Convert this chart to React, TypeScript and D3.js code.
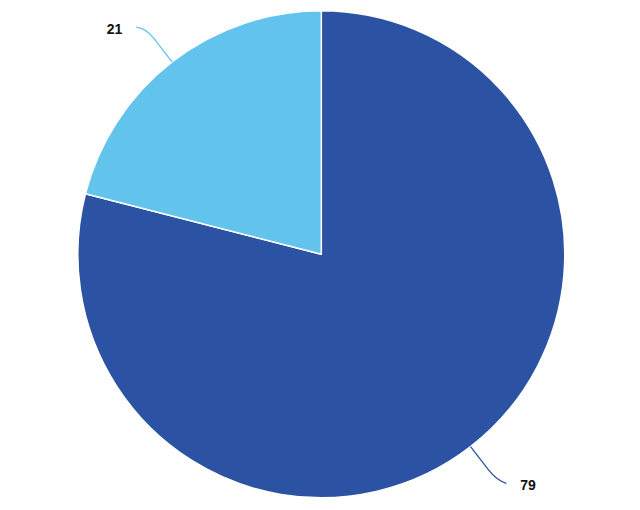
import React from "react";
import * as d3 from "d3";

const categories = ["A", "B"];
const values = [79, 21];
const colors = ["#2B52A3", "#62C3EC"];

const W = 640;
const H = 510;
const cx = 321.3;
const cy = 254.3;
const R = 243.5;

export default function App() {
  const pie = d3.pie<number>().sort(null).value((d) => d);
  const arcs = pie(values);
  const arcGen = d3.arc<d3.PieArcDatum<number>>().innerRadius(0).outerRadius(R);

  return (
    <svg
      width={W}
      height={H}
      style={{ position: "absolute", left: 0, top: 0, background: "#fff" }}
      fontFamily="Arial, 'Liberation Sans', sans-serif"
    >
      <g transform={`translate(${cx},${cy})`}>
        {arcs.map((a, i) => (
          <path
            key={categories[i]}
            d={arcGen(a) || ""}
            fill={colors[i]}
            stroke="#fff"
            strokeWidth={1.5}
            strokeLinejoin="round"
          />
        ))}
        {arcs.map((a, i) => {
          const mid = (a.startAngle + a.endAngle) / 2;
          const ux = Math.sin(mid);
          const uy = -Math.cos(mid);
          const p0 = [ux * R, uy * R];
          const pA = [ux * (R + 30), uy * (R + 30)];
          const pB = [ux * (R + 42), uy * (R + 42)];
          const dir = ux >= 0 ? 1 : -1;
          const pE = [pB[0] + dir * 10, pB[1] + (uy > 0 ? 3.5 : -1.5)];
          const d = `M${p0[0]},${p0[1]}L${pA[0]},${pA[1]}Q${pB[0]},${pB[1]} ${pE[0]},${pE[1]}`;
          return (
            <g key={"l" + categories[i]}>
              <path d={d} fill="none" stroke={colors[i]} strokeWidth={1.3} />
              <text
                x={pE[0] + dir * 14}
                y={pE[1] + 7}
                textAnchor={dir > 0 ? "start" : "end"}
                fontSize={14}
                fontWeight="bold"
                fill="#111"
              >
                {values[i]}
              </text>
            </g>
          );
        })}
      </g>
    </svg>
  );
}
